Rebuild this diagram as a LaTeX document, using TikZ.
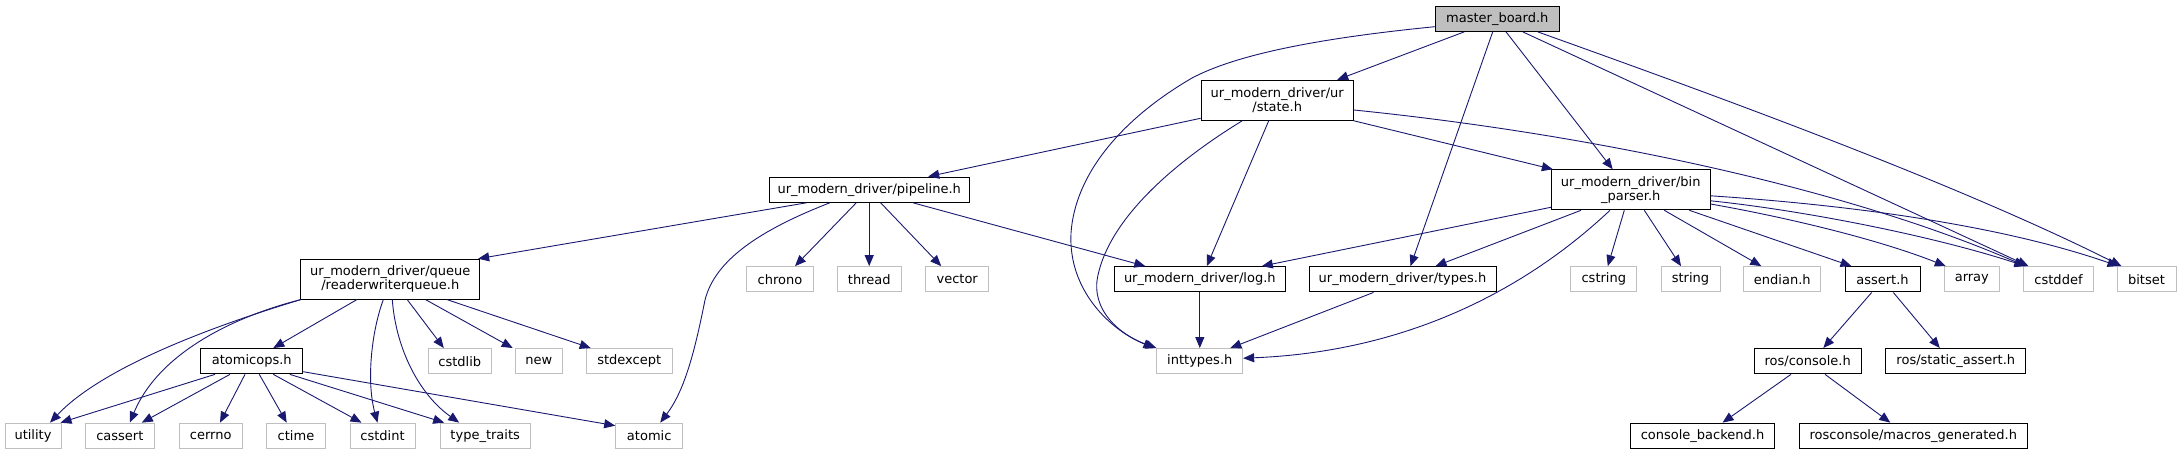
\documentclass[tikz,border=0pt]{standalone}
\usepackage{fontspec}
\setmainfont{DejaVu Sans}
\usetikzlibrary{arrows.meta}

\definecolor{edgeblue}{HTML}{191970}
\definecolor{boxgrey}{HTML}{BFBFBF}

\begin{document}
\begin{tikzpicture}[x=1pt, y=-1pt,
  hdr/.style={rectangle, draw=black, fill=white, line width=1pt, inner sep=0pt, minimum height=25.3pt, align=center, font=\fontsize{13}{14}\selectfont},
  syshdr/.style={hdr, draw=boxgrey},
  tall/.style={minimum height=40pt},
  edge/.style={draw=edgeblue, line width=0.9pt, -{Triangle[length=11pt, width=9pt]}}]

  \useasboundingbox (0,0) rectangle (2181,455);

  \node[hdr, fill=boxgrey, minimum width=124pt] at (1497.3,18.7) (master) {master\_board.h};
  \node[hdr, tall, minimum width=152.3pt] at (1277.2,100.3) (state) {ur\_modern\_driver/ur\\/state.h};
  \node[hdr, minimum width=200.3pt] at (869.2,189.7) (pipeline) {ur\_modern\_driver/pipeline.h};
  \node[hdr, tall, minimum width=158.7pt] at (1630.7,189.8) (binparser) {ur\_modern\_driver/bin\\\_parser.h};
  \node[hdr, tall, minimum width=178.7pt] at (390.3,279.2) (rwq) {ur\_modern\_driver/queue\\/readerwriterqueue.h};

  \node[syshdr, minimum width=67.4pt] at (780,279.3) (chrono) {chrono};
  \node[syshdr, minimum width=64.3pt] at (869.2,279.3) (thread) {thread};
  \node[syshdr, minimum width=63pt] at (957.2,279.3) (vector) {vector};
  \node[hdr, minimum width=171pt] at (1199.8,279.3) (log) {ur\_modern\_driver/log.h};
  \node[hdr, minimum width=187pt] at (1402.5,279.3) (types) {ur\_modern\_driver/types.h};
  \node[syshdr, minimum width=65.7pt] at (1603.8,279.3) (cstring) {cstring};
  \node[syshdr, minimum width=59pt] at (1690.5,279.3) (string) {string};
  \node[syshdr, minimum width=77.3pt] at (1782.3,279.3) (endian) {endian.h};
  \node[hdr, minimum width=75pt] at (1882.5,279.3) (assert) {assert.h};
  \node[syshdr, minimum width=55pt] at (1971.8,279.3) (array) {array};
  \node[syshdr, minimum width=69.6pt] at (2058.5,279.3) (cstddef) {cstddef};
  \node[syshdr, minimum width=59pt] at (2146.5,279.3) (bitset) {bitset};

  \node[hdr, minimum width=101.7pt] at (251.8,361.2) (atomicops) {atomicops.h};
  \node[syshdr, minimum width=63pt] at (459.8,361.2) (cstdlib) {cstdlib};
  \node[syshdr, minimum width=47.3pt] at (538.7,361.2) (new) {new};
  \node[syshdr, minimum width=85.7pt] at (629.2,361.2) (stdexcept) {stdexcept};
  \node[syshdr, minimum width=85.7pt] at (1199.8,361.2) (inttypes) {inttypes.h};
  \node[hdr, minimum width=106.7pt] at (1807.7,361.2) (console) {ros/console.h};
  \node[hdr, minimum width=140.3pt] at (1955.8,361.2) (staticassert) {ros/static\_assert.h};

  \node[syshdr, minimum width=56pt] at (33,435.8) (utility) {utility};
  \node[syshdr, minimum width=69pt] at (119.8,435.8) (cassert) {cassert};
  \node[syshdr, minimum width=62.7pt] at (210.7,435.8) (cerrno) {cerrno};
  \node[syshdr, minimum width=58.6pt] at (296,435.8) (ctime) {ctime};
  \node[syshdr, minimum width=65pt] at (382.5,435.8) (cstdint) {cstdint};
  \node[syshdr, minimum width=90.3pt] at (485.2,435.8) (typetraits) {type\_traits};
  \node[syshdr, minimum width=67pt] at (649.2,435.8) (atomic) {atomic};
  \node[hdr, minimum width=144.4pt] at (1702.5,435.8) (backend) {console\_backend.h};
  \node[hdr, minimum width=228pt] at (1913.3,435.8) (macros) {rosconsole/macros\_generated.h};

  \draw[edge] ([xshift=-33pt]master.south) -- ([xshift=60pt]state.north);
  \draw[edge] ([xshift=-4.6pt]master.south) -- ([xshift=8pt]types.north);
  \draw[edge] ([xshift=8.7pt]master.south) -- ([xshift=-18pt]binparser.north);
  \draw[edge] ([xshift=25.4pt]master.south) -- ([xshift=-30pt]cstddef.north);
  \draw[edge] ([xshift=40.4pt]master.south) .. controls (1700,90) and (1950,180) .. ([xshift=-25pt]bitset.north);
  \draw[edge] ([yshift=-8pt]master.west) .. controls (1300,40) and (1230,58) .. (1192,78) .. controls (1120,120) and (1075,175) .. (1071,233) .. controls (1068,290) and (1110,330) .. ([xshift=-2pt]inttypes.north west);

  \draw[edge] ([yshift=-18pt]state.west) -- ([xshift=59pt]pipeline.north);
  \draw[edge] ([xshift=-35pt]state.south) .. controls (1170,165) and (1110,220) .. (1098,275) .. controls (1090,310) and (1120,335) .. (inttypes.north west);
  \draw[edge] ([xshift=-8.5pt]state.south) -- ([xshift=7pt]log.north);
  \draw[edge] (state.south east) -- ([xshift=2pt]binparser.north west);
  \draw[edge] ([yshift=-9.7pt]state.east) .. controls (1600,135) and (1850,190) .. ([xshift=-33pt]cstddef.north);

  \draw[edge] ([xshift=-63pt]pipeline.south) -- ([xshift=-2pt]rwq.north east);
  \draw[edge] ([xshift=-39.5pt]pipeline.south) .. controls (760,230) and (715,260) .. (705,300) .. controls (695,350) and (685,390) .. ([xshift=11pt]atomic.north);
  \draw[edge] ([xshift=-13pt]pipeline.south) -- ([xshift=15pt]chrono.north);
  \draw[edge] (pipeline.south) -- (thread.north);
  \draw[edge] ([xshift=11.5pt]pipeline.south) -- ([xshift=-16pt]vector.north);
  \draw[edge] ([xshift=44pt]pipeline.south) -- ([xshift=-54.5pt]log.north);

  \draw[edge] (rwq.south west) .. controls (200,330) and (100,370) .. ([xshift=17pt]utility.north);
  \draw[edge] (rwq.south west) .. controls (240,315) and (160,350) .. ([xshift=10pt]cassert.north);
  \draw[edge] ([xshift=-33.6pt]rwq.south) -- ([xshift=21.5pt]atomicops.north);
  \draw[edge] ([xshift=-7pt]rwq.south) .. controls (372,330) and (366,380) .. ([xshift=-5pt]cstdint.north);
  \draw[edge] ([xshift=2pt]rwq.south) .. controls (396,350) and (420,395) .. ([xshift=-26pt]typetraits.north);
  \draw[edge] ([xshift=17pt]rwq.south) -- ([xshift=-16pt]cstdlib.north);
  \draw[edge] ([xshift=35.4pt]rwq.south) -- ([xshift=-26pt]new.north);
  \draw[edge] ([xshift=57pt]rwq.south) -- ([xshift=-38.5pt]stdexcept.north);

  \draw[edge] ([xshift=-36.8pt]atomicops.south) -- ([xshift=-1pt]utility.north east);
  \draw[edge] ([xshift=-21.8pt]atomicops.south) -- ([xshift=22pt]cassert.north);
  \draw[edge] ([xshift=-6.8pt]atomicops.south) -- ([xshift=9.3pt]cerrno.north);
  \draw[edge] ([xshift=7.5pt]atomicops.south) -- ([xshift=-9.3pt]ctime.north);
  \draw[edge] ([xshift=21.5pt]atomicops.south) -- ([xshift=-21pt]cstdint.north);
  \draw[edge] ([xshift=38pt]atomicops.south) -- ([xshift=-41pt]typetraits.north);
  \draw[edge] ([yshift=-10.5pt]atomicops.east) -- ([yshift=-3pt]atomic.north west);

  \draw[edge] (log.south) -- (inttypes.north);
  \draw[edge] ([xshift=-29pt]types.south) -- ([xshift=30.5pt]inttypes.north);

  \draw[edge] ([yshift=-17.5pt]binparser.west) -- ([xshift=62pt]log.north);
  \draw[edge] ([xshift=-49.7pt]binparser.south) -- ([xshift=33pt]types.north);
  \draw[edge] ([xshift=-20.7pt]binparser.south) .. controls (1520,295) and (1400,352) .. ([yshift=3pt]inttypes.east);
  \draw[edge] ([xshift=-6.4pt]binparser.south) -- ([xshift=4pt]cstring.north);
  \draw[edge] ([xshift=13.6pt]binparser.south) -- ([xshift=-9.5pt]string.north);
  \draw[edge] ([xshift=33.6pt]binparser.south) -- ([xshift=-21pt]endian.north);
  \draw[edge] ([xshift=58.6pt]binparser.south) -- ([xshift=-31pt]assert.north);
  \draw[edge] ([yshift=-14.2pt]binparser.east) .. controls (1790,218) and (1880,240) .. ([xshift=-26pt]array.north);
  \draw[edge] ([yshift=-11pt]binparser.east) .. controls (1800,210) and (1930,235) .. ([xshift=-33pt]cstddef.north);
  \draw[edge] ([yshift=-6pt]binparser.east) .. controls (1850,205) and (2000,225) .. ([xshift=-28pt]bitset.north);

  \draw[edge] ([xshift=-10.8pt]assert.south) -- ([xshift=15.6pt]console.north);
  \draw[edge] ([xshift=10.8pt]assert.south) -- ([xshift=-16pt]staticassert.north);
  \draw[edge] ([xshift=-16.7pt]console.south) -- ([xshift=20pt]backend.north);
  \draw[edge] ([xshift=17.3pt]console.south) -- ([xshift=-23pt]macros.north);

\end{tikzpicture}
\end{document}
